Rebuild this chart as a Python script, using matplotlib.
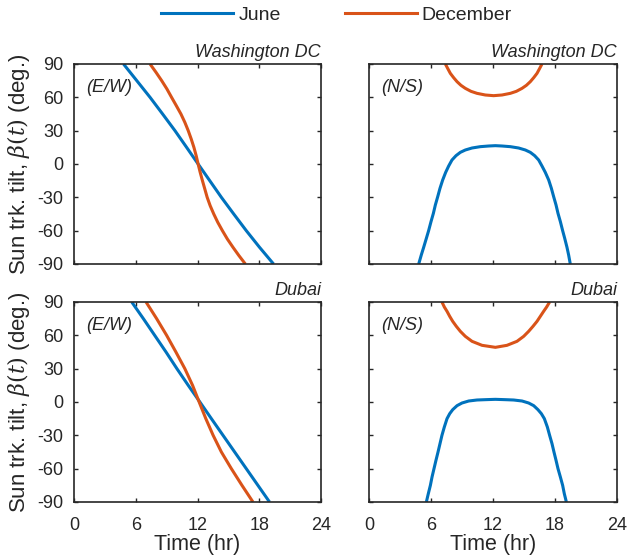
import matplotlib
matplotlib.use("Agg")
import matplotlib.pyplot as plt
from matplotlib.lines import Line2D

plt.rcParams['font.family'] = ['Liberation Sans', 'DejaVu Sans']
plt.rcParams['mathtext.fontset'] = 'dejavuserif'
plt.rcParams['axes.unicode_minus'] = False

# ---- data (hours, degrees) ----
dc_ew_jun_t = [4.81, 6.10, 7.39, 8.61, 9.81, 10.94, 12.06, 13.19, 14.32, 15.52, 16.74, 18.03, 19.39]
dc_ew_jun_b = [90, 75, 60, 45, 30, 15, 0, -15, -30, -45, -60, -75, -90]
dc_ew_dec_t = [7.39, 7.97, 8.52, 9.03, 9.48, 9.94, 10.39, 10.77, 11.10, 11.39, 11.65, 11.87, 12.06,
               12.26, 12.48, 12.71, 12.94, 13.23, 13.58, 13.97, 14.42, 14.90, 15.45, 16.03, 16.65]
dc_ew_dec_b = [90, 82.5, 75, 67.5, 60, 52.5, 45, 37.5, 30, 22.5, 15, 7.5, 0,
               -7.5, -15, -22.5, -30, -37.5, -45, -52.5, -60, -67.5, -75, -82.5, -90]

dc_ns_jun_t = [4.81, 5.06, 5.29, 5.55, 5.77, 6.00, 6.23, 6.42, 6.65, 6.87, 7.13, 7.42, 7.71, 8.03,
               8.42, 8.84, 9.32, 9.97, 10.77, 11.58, 12.23, 12.87, 13.68, 14.48, 15.13, 15.61,
               16.03, 16.42, 16.74, 17.06, 17.39, 17.65, 17.87, 18.10, 18.29, 18.52, 18.74,
               18.94, 19.16, 19.32, 19.48]
dc_ns_jun_b = [-90, -81.9, -75, -66.9, -60, -51.9, -44.4, -36.9, -29.4, -21.9, -14.4, -7.5, -1.8, 3.6,
               7.5, 10.5, 12.6, 14.4, 15.6, 16.2, 16.5, 16.2, 15.6, 14.4, 12.6, 10.5,
               7.5, 3.6, -1.8, -7.5, -14.4, -21.9, -29.4, -36.9, -44.4, -51.9, -60,
               -66.9, -75, -81.9, -90]
dc_ns_dec_t = [7.39, 7.61, 7.87, 8.19, 8.52, 8.90, 9.32, 9.87, 10.45, 11.26, 12.06,
               12.87, 13.68, 14.26, 14.81, 15.23, 15.61, 15.94, 16.26, 16.52, 16.74]
dc_ns_dec_b = [90, 86.1, 81.6, 77.7, 74.1, 70.8, 68.1, 65.4, 63.6, 62.1, 61.5,
               62.1, 63.6, 65.4, 68.1, 70.8, 74.1, 77.7, 81.6, 86.1, 90]

du_ew_jun_t = [5.61, 6.74, 7.84, 8.94, 10.0, 11.1, 12.23, 13.35, 14.48, 15.61, 16.74, 17.87, 19.0]
du_ew_jun_b = [90, 75, 60, 45, 30, 15, 0, -15, -30, -45, -60, -75, -90]
du_ew_dec_t = [7.0, 8.03, 9.0, 9.9, 10.77, 11.52, 12.16, 12.81, 13.52, 14.32, 15.29, 16.32, 17.39]
du_ew_dec_b = [90, 75, 60, 45, 30, 15, 0, -15, -30, -45, -60, -75, -90]

du_ns_jun_t = [5.55, 5.74, 5.94, 6.10, 6.29, 6.48, 6.68, 6.87, 7.06, 7.29, 7.55, 7.81, 8.10, 8.52,
               9.00, 9.65, 10.45, 11.26, 12.23, 13.19, 14.00, 14.81, 15.45, 15.94, 16.35, 16.68,
               16.97, 17.26, 17.48, 17.71, 17.90, 18.10, 18.29, 18.52, 18.74, 18.90, 19.10]
du_ns_jun_b = [-90, -82.5, -75, -67.5, -60, -52.5, -45, -37.5, -30, -22.5, -15, -10.5, -6.9, -3.3,
               -0.9, 0.9, 1.8, 2.1, 2.4, 2.1, 1.8, 0.9, -0.9, -3.3, -6.9, -10.5,
               -15, -22.5, -30, -37.5, -45, -52.5, -60, -67.5, -75, -82.5, -90]
du_ns_dec_t = [7.06, 7.29, 7.55, 7.81, 8.10, 8.45, 8.84, 9.32, 9.97, 10.94, 12.23,
               13.35, 14.32, 14.97, 15.45, 15.87, 16.26, 16.58, 16.90, 17.19, 17.48]
du_ns_dec_b = [90, 85.5, 81.6, 77.1, 72.6, 68.1, 63.6, 59.1, 54.6, 51, 49.2,
               51, 54.6, 59.1, 63.6, 68.1, 72.6, 77.1, 81.6, 85.5, 90]

x_ticks = [0, 6, 12, 18, 24]
y_ticks = [-90, -60, -30, 0, 30, 60, 90]
series_names = ['June', 'December']
c_jun = '#0072BD'
c_dec = '#D95319'
dark = '#262626'

fig = plt.figure(figsize=(6.27, 5.59), dpi=100)
W, H = 627, 559

def add_ax(x0, y0, x1, y1):
    return fig.add_axes([x0 / W, 1 - y1 / H, (x1 - x0) / W, (y1 - y0) / H])

ax_tl = add_ax(74, 64, 321, 264)
ax_tr = add_ax(369, 64, 617, 264)
ax_bl = add_ax(74, 302, 321, 502)
ax_br = add_ax(369, 302, 617, 502)

panels = [
    (ax_tl, dc_ew_jun_t, dc_ew_jun_b, dc_ew_dec_t, dc_ew_dec_b, 'Washington DC', '(E/W)'),
    (ax_tr, dc_ns_jun_t, dc_ns_jun_b, dc_ns_dec_t, dc_ns_dec_b, 'Washington DC', '(N/S)'),
    (ax_bl, du_ew_jun_t, du_ew_jun_b, du_ew_dec_t, du_ew_dec_b, 'Dubai', '(E/W)'),
    (ax_br, du_ns_jun_t, du_ns_jun_b, du_ns_dec_t, du_ns_dec_b, 'Dubai', '(N/S)'),
]

for i, (ax, tj, bj, td, bd, title, tag) in enumerate(panels):
    ax.plot(tj, bj, color=c_jun, lw=2.2, solid_capstyle='butt', solid_joinstyle='round')
    ax.plot(td, bd, color=c_dec, lw=2.2, solid_capstyle='butt', solid_joinstyle='round')
    ax.set_xlim(0, 24)
    ax.set_ylim(-90, 90)
    ax.set_xticks(x_ticks)
    ax.set_yticks(y_ticks)
    ax.tick_params(direction='in', top=True, right=True, length=3, width=1.0,
                   colors=dark, labelsize=13)
    ax.tick_params(axis='x', pad=10.5)
    ax.tick_params(axis='y', pad=7.5)
    for s in ax.spines.values():
        s.set_linewidth(1.2)
        s.set_color(dark)
    ax.set_title(title, loc='right', fontsize=13, style='italic', color=dark, pad=5)
    ax.text(0.05, 0.88, tag, transform=ax.transAxes, fontsize=13, style='italic',
            color=dark, va='center', ha='left')
    if i in (0, 1):
        ax.set_xticklabels([])
    else:
        ax.set_xlabel('Time (hr)', fontsize=15.5, color=dark, labelpad=0)
    if i in (1, 3):
        ax.set_yticklabels([])
    else:
        ax.set_ylabel(r'Sun trk. tilt, $\beta(t)$ (deg.)', fontsize=16, color=dark)
        ax.yaxis.set_label_coords(-0.172, 0.5)

handles = [Line2D([], [], color=c_jun, lw=2.2), Line2D([], [], color=c_dec, lw=2.2)]
fig.legend(handles, series_names, loc='center', bbox_to_anchor=(0.537, 0.973), ncol=2,
           frameon=False, fontsize=14, handlelength=3.7, handletextpad=0.25,
           columnspacing=3.3, labelcolor=dark, borderaxespad=0, borderpad=0)

fig.savefig('out.png', dpi=100)
